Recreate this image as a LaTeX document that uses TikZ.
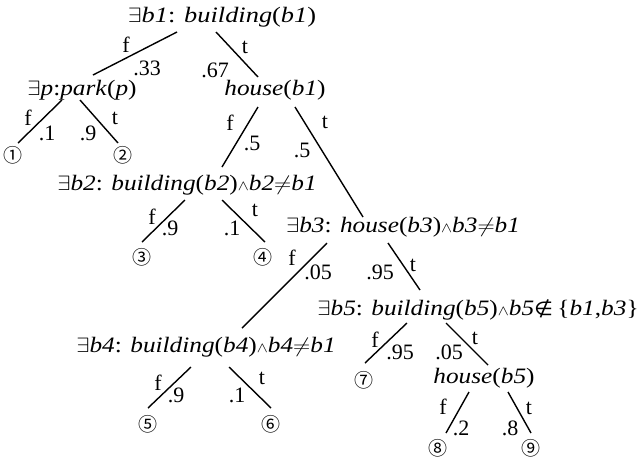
\documentclass[tikz,border=0pt]{standalone}
\usepackage{fontspec}
\setmainfont{Liberation Serif}
\newfontfamily\circfont{DejaVu Sans}
\newfontfamily\cjk{Noto Sans CJK JP}
\usetikzlibrary{calc}
\newcommand{\Ex}{$\exists$}
\newcommand{\Wg}{{\fontsize{15}{17}\selectfont$\wedge$}}
\newcommand{\Wide}[1]{\scalebox{1.15}[1]{#1}}
\newcommand{\Wider}[1]{\scalebox{1.2}[1]{#1}}
\begin{document}
\begin{tikzpicture}[x=1pt,y=-1pt,
  tx/.style={inner sep=0pt, font=\fontsize{22}{26}\selectfont},
  lbl/.style={inner sep=0pt, font=\fontsize{22}{26}\selectfont},
  leaf/.style={inner sep=0pt, font=\cjk\fontsize{19}{22}\selectfont},
  br/.style={line width=1.4pt}]
\useasboundingbox (0,0) rectangle (642,464);
% tree nodes
\node[tx] (R)  at (222,17)  {\Wider{\Ex\textit{b1}: \textit{building}(\textit{b1})}};
\node[tx] (P)  at (82,90)   {\Wide{\Ex\textit{p}:\textit{park}(\textit{p})}};
\node[tx] (H1) at (275,90)  {\Wide{\textit{house}(\textit{b1})}};
\node[tx] (B2) at (187,185) {\Wide{\Ex\textit{b2}: \textit{building}(\textit{b2})\Wg\textit{b2}$\neq$\textit{b1}}};
\node[tx] (B3) at (403,227) {\Wide{\Ex\textit{b3}: \textit{house}(\textit{b3})\Wg\textit{b3}$\neq$\textit{b1}}};
\node[tx] (B4) at (206,347) {\Wide{\Ex\textit{b4}: \textit{building}(\textit{b4})\Wg\textit{b4}$\neq$\textit{b1}}};
\node[tx] (B5) at (478,310) {\Wide{\Ex\textit{b5}: \textit{building}(\textit{b5})\Wg\textit{b5}{\circfont\fontsize{19}{22}\selectfont ∉}\,\{\textit{b1},\textit{b3}\}}};
\node[tx] (H5) at (484,378) {\Wide{\textit{house}(\textit{b5})}};
% leaves
\node[leaf] (L1) at (13,155)  {①};
\node[leaf] (L2) at (123,155) {②};
\node[leaf] (L3) at (142,257) {③};
\node[leaf] (L4) at (263,257) {④};
\node[leaf] (L5) at (148,424) {⑤};
\node[leaf] (L6) at (271,424) {⑥};
\node[leaf] (L7) at (364,380) {⑦};
\node[leaf] (L8) at (438,448) {⑧};
\node[leaf] (L9) at (531,448) {⑨};
% branches
\draw[br] ($(R)+(-45,15)$) -- ($(P)+(11,-15)$);
\draw[br] ($(R)+(-6,15)$) -- ($(H1)+(-17,-13)$);
\draw[br] ($(P)+(-20,10)$) -- ($(L1)+(5,-12)$);
\draw[br] ($(P)+(-2,10)$) -- ($(L2)+(-5,-12)$);
\draw[br] ($(H1)+(-17,17)$) -- ($(B2)+(35,-18)$);
\draw[br] ($(H1)+(20,17)$) -- ($(B3)+(-40,-10)$);
\draw[br] ($(B2)+(-2,15)$) -- ($(L3)+(0,-15)$);
\draw[br] ($(B2)+(35,15)$) -- ($(L4)+(2,-15)$);
\draw[br] ($(B3)+(-76,16)$) -- ($(B4)+(36,-19)$);
\draw[br] ($(B3)+(-15,16)$) -- ($(B5)+(-58,-20)$);
\draw[br] ($(B4)+(-15,20)$) -- ($(L5)+(0,-16)$);
\draw[br] ($(B4)+(23,20)$) -- ($(L6)+(0,-16)$);
\draw[br] ($(B5)+(-71,13)$) -- ($(L7)+(1,-17)$);
\draw[br] ($(B5)+(-32,13)$) -- ($(H5)+(4,-13)$);
\draw[br] ($(H5)+(-15,14)$) -- ($(L8)+(8,-15)$);
\draw[br] ($(H5)+(24,14)$) -- ($(L9)+(0,-15)$);
% labels
\node[lbl] (a1) at (126,45) {f};  \node[lbl] (a2) at (147,68) {.33};
\node[lbl] (a3) at (245,47) {t};  \node[lbl] (a4) at (215,70) {.67};
\node[lbl] (b1) at (28,118) {f};  \node[lbl] (b2) at (47,133) {.1};
\node[lbl] (b3) at (88,133) {.9}; \node[lbl] (b4) at (115,118) {t};
\node[lbl] (c1) at (230,123) {f}; \node[lbl] (c2) at (252,143) {.5};
\node[lbl] (c3) at (302,150) {.5};\node[lbl] (c4) at (325,122) {t};
\node[lbl] (d1) at (152,217) {f}; \node[lbl] (d2) at (170,228) {.9};
\node[lbl] (d3) at (232,228) {.1};\node[lbl] (d4) at (255,210) {t};
\node[lbl] (e1) at (292,258) {f}; \node[lbl] (e2) at (318,272) {.05};
\node[lbl] (e3) at (380,272) {.95};\node[lbl] (e4) at (413,265) {t};
\node[lbl] (g1) at (158,383) {f}; \node[lbl] (g2) at (176,395) {.9};
\node[lbl] (g3) at (237,395) {.1};\node[lbl] (g4) at (262,378) {t};
\node[lbl] (h1) at (375,340) {f}; \node[lbl] (h2) at (400,352) {.95};
\node[lbl] (h3) at (449,352) {.05};\node[lbl] (h4) at (475,338) {t};
\node[lbl] (k1) at (443,407) {f}; \node[lbl] (k2) at (461,428) {.2};
\node[lbl] (k3) at (510,428) {.8};\node[lbl] (k4) at (529,408) {t};
\end{tikzpicture}
\end{document}
